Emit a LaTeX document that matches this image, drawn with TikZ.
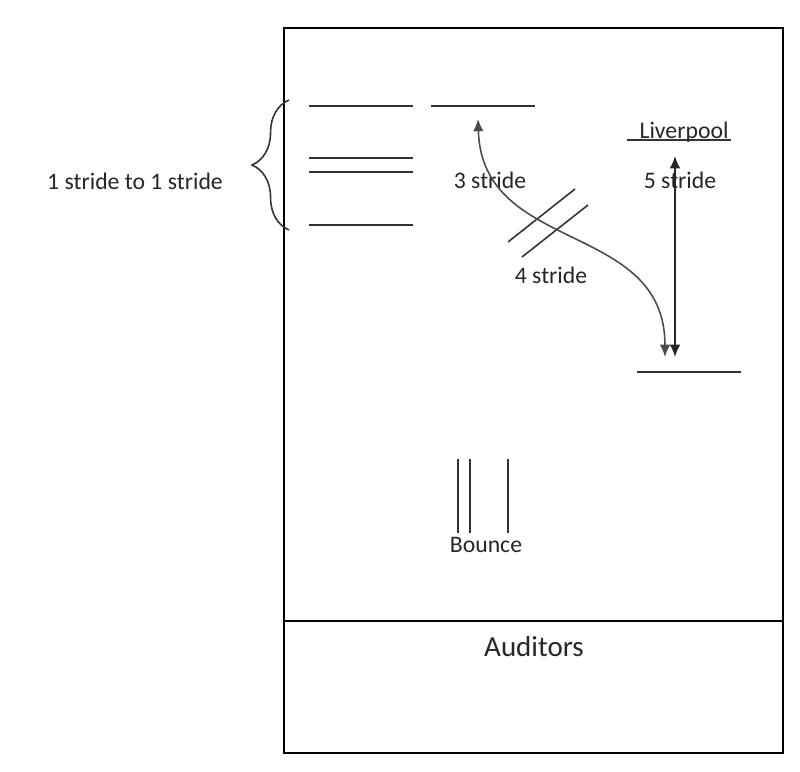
\documentclass[tikz,border=0pt]{standalone}
\usepackage{fontspec}
\setmainfont{Carlito}
\usetikzlibrary{arrows.meta,decorations.pathreplacing}
\tikzset{
  rule/.style={draw=black!80, line width=.9pt},
  lbl/.style={inner sep=1pt, font=\fontsize{13.5}{16}\selectfont, text=black!85},
  arr/.style={black!85, line width=.9pt, {Latex[length=7pt,width=6pt]}-{Latex[length=7pt,width=6pt]}}
}
\begin{document}
\begin{tikzpicture}[x=.02cm,y=-.02cm]
  \useasboundingbox (0,0) rectangle (800,771);
  \fill[white] (0,0) rectangle (800,771);

  %% room and auditors
  \draw[line width=1.6pt] (284,28) rectangle (783,753);
  \draw[line width=1.6pt] (284,621) -- (783,621);
  \node[lbl, font=\fontsize{16.5}{19}\selectfont] (aud) at (534,647) {Auditors};

  %% brace
  \draw[black!80, line width=.9pt, decorate, decoration={brace, amplitude=21pt}]
    (289,230) -- (289,100);
  \node[lbl] (one) at (135,181) {1 stride to 1 stride};

  %% left lines
  \draw[rule] (309,106) -- (413,106);
  \draw[rule] (431,106) -- (535,106);
  \draw[rule] (309,158) -- (413,158);
  \draw[rule] (309,172) -- (413,172);
  \draw[rule] (309,225) -- (413,225);

  %% right lines
  \draw[rule] (627,140) -- (731,140);
  \draw[rule] (637,372) -- (741,372);
  \node[lbl] (liv) at (684,132) {Liverpool};

  %% hatch
  \draw[rule] (508,242) -- (575,189);
  \draw[rule] (522,257) -- (588,205);

  %% bounce
  \draw[rule] (458,459) -- (458,533);
  \draw[rule] (470,459) -- (470,533);
  \draw[rule] (508,459) -- (508,533);
  \node[lbl] (bnc) at (486,545) {Bounce};

  %% strides
  \node[lbl] (three) at (490,180) {3 stride};
  \node[lbl] (four) at (551,275) {4 stride};
  \node[lbl] (five) at (680,180) {5 stride};

  %% arrows
  \coordinate (ct) at (478,119);
  \coordinate (cb) at (665,357);
  \coordinate (ft) at (675,156);
  \coordinate (fb) at (675,357);
  \draw[arr, black!70] (cb) .. controls (665,220) and (482,255) .. (ct);
  \draw[arr] (ft) -- (fb);
\end{tikzpicture}
\end{document}
